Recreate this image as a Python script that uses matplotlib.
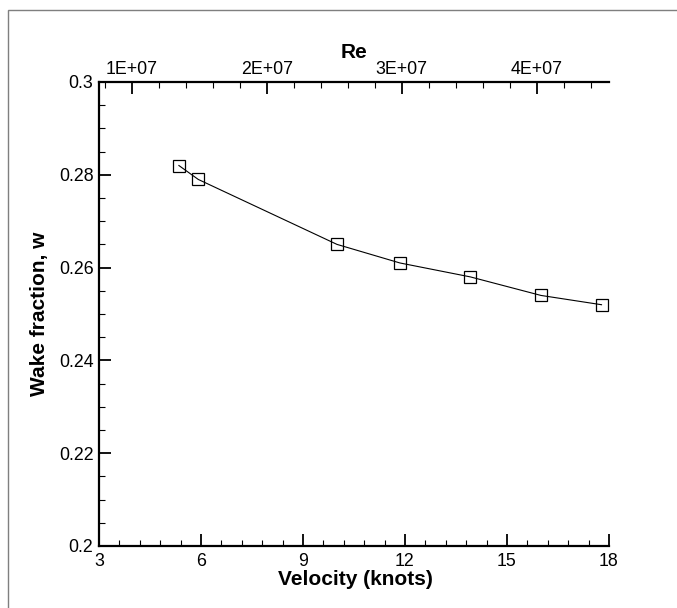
import matplotlib
matplotlib.use("Agg")
import matplotlib.pyplot as plt
from matplotlib.ticker import MultipleLocator, FuncFormatter
from matplotlib.patches import Rectangle

plt.rcParams['font.family'] = ['Liberation Sans', 'DejaVu Sans']

# Data
velocity = [5.35, 5.92, 10.0, 11.85, 13.92, 16.0, 17.78]
wake = [0.282, 0.279, 0.265, 0.261, 0.258, 0.254, 0.252]
re_per_knot = 2.52e6
x_label = "Velocity (knots)"
y_label = "Wake fraction, w"
top_label = "Re"

W, H = 677, 608
fig = plt.figure(figsize=(W / 100, H / 100), dpi=100)

def px(x, y):
    return x / W, 1 - y / H

l, r, t, b = 99, 609, 82, 546
ax = fig.add_axes([l / W, 1 - b / H, (r - l) / W, (b - t) / H])

ax.plot(velocity, wake, color='black', lw=0.8, marker='s', markersize=9,
        markerfacecolor='none', markeredgecolor='black', markeredgewidth=0.9)

ax.set_xlim(3, 18)
ax.set_ylim(0.2, 0.3)
ax.xaxis.set_major_locator(MultipleLocator(3))
ax.xaxis.set_minor_locator(MultipleLocator(0.6))
ax.yaxis.set_major_locator(MultipleLocator(0.02))
ax.yaxis.set_minor_locator(MultipleLocator(0.005))
ax.yaxis.set_major_formatter(FuncFormatter(lambda v, p: f"{v:g}"))

for s in ['top', 'right']:
    ax.spines[s].set_visible(False)
for s in ['left', 'bottom']:
    ax.spines[s].set_linewidth(1.6)

ax.tick_params(which='both', direction='in', top=False, right=False, labelsize=12.75, color='black')
ax.tick_params(which='major', length=8.6, width=1.3)
ax.tick_params(which='minor', length=4.5, width=0.8)
ax.tick_params(axis='x', which='major', pad=5)
ax.tick_params(axis='y', which='major', pad=4)

ax2 = ax.twiny()
ax2.set_xlim(3 * re_per_knot, 18 * re_per_knot)
ax2.xaxis.set_major_locator(MultipleLocator(1e7))
ax2.xaxis.set_minor_locator(MultipleLocator(2e6))
ax2.xaxis.set_major_formatter(FuncFormatter(lambda v, p: f"{int(round(v / 1e7))}E+07"))
for s in ['left', 'right', 'bottom']:
    ax2.spines[s].set_visible(False)
ax2.spines['top'].set_linewidth(1.6)
ax2.tick_params(which='both', direction='in', labelsize=12.75)
ax2.tick_params(which='major', length=8.6, width=1.3, pad=3)
ax2.tick_params(which='minor', length=4.5, width=0.8)

fig.text(*px(355, 585), x_label, ha='center', va='baseline', fontsize=15, fontweight='bold')
fig.text(*px(354, 58), top_label, ha='center', va='baseline', fontsize=15, fontweight='bold')
fig.text(*px(45, 314), y_label, ha='center', va='baseline', rotation=90,
         rotation_mode='anchor', fontsize=15, fontweight='bold')

frame = Rectangle(px(8, 700), 800 / W, (700 - 9.5) / H, transform=fig.transFigure,
                  fill=False, edgecolor='#7f7f7f', lw=1.0, clip_on=False)
fig.patches.append(frame)

fig.savefig("out.png", dpi=100)
